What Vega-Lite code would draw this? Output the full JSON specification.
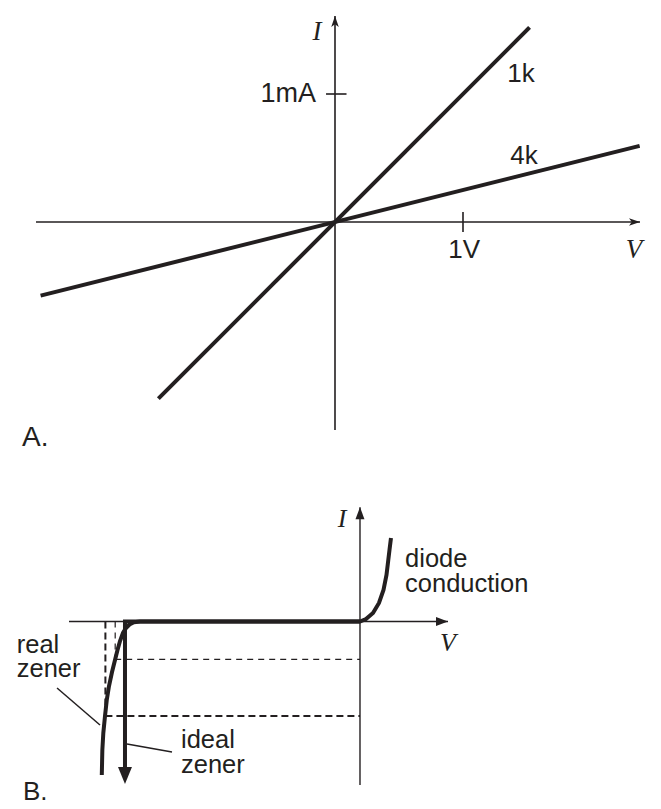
{
  "$schema": "https://vega.github.io/schema/vega-lite/v6.json",
  "padding": 0,
  "spacing": 0,
  "background": "white",
  "config": {"view": {"stroke": null}, "concat": {"spacing": 0}},
  "datasets": {
    "linesA": [
      {"R": "1k", "k": 0, "v": -1.38, "i": -1.38},
      {"R": "1k", "k": 1, "v": 1.52, "i": 1.52},
      {"R": "4k", "k": 0, "v": -2.3, "i": -0.575},
      {"R": "4k", "k": 1, "v": 2.38, "i": 0.595}
    ],
    "axesA": [
      {"v": -2.336, "i": 0, "v2": 2.383, "i2": 0},
      {"v": 0, "i": -1.625, "v2": 0, "i2": 1.61},
      {"v": 1, "i": -0.078, "v2": 1, "i2": 0.078},
      {"v": -0.07, "i": 1, "v2": 0.09, "i2": 1}
    ],
    "arrowRightA": [{"v": 2.383, "i": 0}],
    "arrowUpA": [{"v": 0, "i": 1.61}],
    "labelsA": [
      {"label": "1mA", "v": -0.148, "i": 1.0, "kind": "right"},
      {"label": "1V", "v": 1.01, "i": -0.22, "kind": "center"},
      {"label": "1k", "v": 1.453, "i": 1.156, "kind": "center"},
      {"label": "4k", "v": 1.477, "i": 0.516, "kind": "center"}
    ],
    "symA": [
      {"label": "I", "v": -0.14, "i": 1.484},
      {"label": "V", "v": 2.336, "i": -0.219}
    ],
    "panelA": [{"label": "A.", "v": -2.445, "i": -1.6875}],
    "curveB": [
      {"series": "real", "k": 0, "v": 0.791, "i": 4.418},
      {"series": "real", "k": 1, "v": 0.753, "i": 3.783},
      {"series": "real", "k": 2, "v": 0.7225, "i": 3.254},
      {"series": "real", "k": 3, "v": 0.6765, "i": 2.46},
      {"series": "real", "k": 4, "v": 0.6, "i": 1.667},
      {"series": "real", "k": 5, "v": 0.485, "i": 0.979},
      {"series": "real", "k": 6, "v": 0.332, "i": 0.45},
      {"series": "real", "k": 7, "v": 0.153, "i": 0.132},
      {"series": "real", "k": 8, "v": 0, "i": 0},
      {"series": "real", "k": 9, "v": -5.617, "i": 0},
      {"series": "real", "k": 10, "v": -5.77, "i": -0.042},
      {"series": "real", "k": 11, "v": -5.885, "i": -0.159},
      {"series": "real", "k": 12, "v": -5.974, "i": -0.344},
      {"series": "real", "k": 13, "v": -6.051, "i": -0.608},
      {"series": "real", "k": 14, "v": -6.127, "i": -1.032},
      {"series": "real", "k": 15, "v": -6.191, "i": -1.508},
      {"series": "real", "k": 16, "v": -6.25, "i": -2.0},
      {"series": "real", "k": 17, "v": -6.331, "i": -2.672},
      {"series": "real", "k": 18, "v": -6.408, "i": -3.413},
      {"series": "real", "k": 19, "v": -6.465, "i": -4.153},
      {"series": "real", "k": 20, "v": -6.51, "i": -5.0},
      {"series": "real", "k": 21, "v": -6.553, "i": -5.899},
      {"series": "real", "k": 22, "v": -6.578, "i": -6.799},
      {"series": "real", "k": 23, "v": -6.592, "i": -8.122},
      {"series": "ideal", "k": 0, "v": 0, "i": 0},
      {"series": "ideal", "k": 1, "v": -6.0, "i": 0},
      {"series": "ideal", "k": 2, "v": -6.0, "i": -7.9}
    ],
    "dashThin": [
      {"v": -6.25, "i": 0, "v2": -6.25, "i2": -2},
      {"v": -6.25, "i": -2, "v2": 0, "i2": -2}
    ],
    "dashThick": [
      {"v": -6.5, "i": 0, "v2": -6.5, "i2": -5},
      {"v": -6.5, "i": -5, "v2": 0, "i2": -5}
    ],
    "axesB": [
      {"v": -7.429, "i": 0, "v2": 2.247, "i2": 0},
      {"v": 0, "i": -8.651, "v2": 0, "i2": 6.05}
    ],
    "leadersB": [
      {"v": -7.735, "i": -3.519, "v2": -6.638, "i2": -5.476},
      {"v": -5.948, "i": -6.481, "v2": -4.8, "i2": -6.905}
    ],
    "arrowRightB": [{"v": 2.247, "i": 0}],
    "arrowUpB": [{"v": 0, "i": 6.05}],
    "arrowIdeal": [{"v": -6.0, "i": -8.598}],
    "symB": [
      {"label": "I", "v": -0.4595, "i": 5.423},
      {"label": "V", "v": 2.247, "i": -1.138}
    ],
    "labelsB": [
      {"label": "diode", "v": 1.15, "i": 2.884},
      {"label": "conduction", "v": 1.15, "i": 1.561},
      {"label": "real", "v": -8.764, "i": -1.667},
      {"label": "zener", "v": -8.764, "i": -2.937},
      {"label": "ideal", "v": -4.57, "i": -6.693},
      {"label": "zener", "v": -4.57, "i": -8.016}
    ],
    "panelB": [{"label": "B.", "v": -8.603, "i": -9.444}]
  },
  "vconcat": [
    {
      "width": 661,
      "height": 460,
      "encoding": {
        "x": {"field": "v", "type": "quantitative", "axis": null, "scale": {"domain": [-2.6172, 2.5469], "nice": false, "zero": false}},
        "y": {"field": "i", "type": "quantitative", "axis": null, "scale": {"domain": [-1.8594, 1.7344], "nice": false, "zero": false}}
      },
      "layer": [
        {
          "data": {"name": "axesA"},
          "mark": {"type": "rule", "color": "#231f20", "strokeWidth": 1.6},
          "encoding": {"x2": {"field": "v2"}, "y2": {"field": "i2"}}
        },
        {
          "data": {"name": "arrowRightA"},
          "mark": {"type": "point", "shape": "M0,0L0.55,1.6L0,1.2L-0.55,1.6Z", "angle": 90, "size": 189, "filled": true, "opacity": 1, "color": "#231f20"}
        },
        {
          "data": {"name": "arrowUpA"},
          "mark": {"type": "point", "shape": "M0,0L0.55,1.6L0,1.2L-0.55,1.6Z", "angle": 0, "size": 189, "filled": true, "opacity": 1, "color": "#231f20"}
        },
        {
          "data": {"name": "linesA"},
          "mark": {"type": "line", "color": "#231f20", "strokeWidth": 4, "strokeCap": "butt"},
          "encoding": {"detail": {"field": "R"}, "order": {"field": "k", "type": "quantitative"}}
        },
        {
          "data": {"name": "labelsA"},
          "transform": [{"filter": "datum.kind == 'right'"}],
          "mark": {"type": "text", "font": "Liberation Sans", "fontSize": 27, "align": "right", "baseline": "middle", "color": "#231f20"},
          "encoding": {"text": {"field": "label"}}
        },
        {
          "data": {"name": "labelsA"},
          "transform": [{"filter": "datum.kind == 'center'"}],
          "mark": {"type": "text", "font": "Liberation Sans", "fontSize": 26, "align": "center", "baseline": "middle", "color": "#231f20"},
          "encoding": {"text": {"field": "label"}}
        },
        {
          "data": {"name": "symA"},
          "mark": {"type": "text", "font": "Liberation Serif", "fontStyle": "italic", "fontSize": 27, "align": "center", "baseline": "middle", "color": "#231f20"},
          "encoding": {"text": {"field": "label"}}
        },
        {
          "data": {"name": "panelA"},
          "mark": {"type": "text", "font": "Liberation Sans", "fontSize": 28, "align": "left", "baseline": "middle", "color": "#231f20"},
          "encoding": {"text": {"field": "label"}}
        }
      ]
    },
    {
      "width": 661,
      "height": 349,
      "encoding": {
        "x": {"field": "v", "type": "quantitative", "axis": null, "scale": {"domain": [-9.191, 7.685], "nice": false, "zero": false}},
        "y": {"field": "i", "type": "quantitative", "axis": null, "scale": {"domain": [-9.921, 8.545], "nice": false, "zero": false}}
      },
      "layer": [
        {
          "data": {"name": "axesB"},
          "mark": {"type": "rule", "color": "#231f20", "strokeWidth": 1.4},
          "encoding": {"x2": {"field": "v2"}, "y2": {"field": "i2"}}
        },
        {
          "data": {"name": "dashThin"},
          "mark": {"type": "rule", "color": "#231f20", "strokeWidth": 1.2, "strokeDash": [6, 5]},
          "encoding": {"x2": {"field": "v2"}, "y2": {"field": "i2"}}
        },
        {
          "data": {"name": "dashThick"},
          "mark": {"type": "rule", "color": "#231f20", "strokeWidth": 2, "strokeDash": [7, 4]},
          "encoding": {"x2": {"field": "v2"}, "y2": {"field": "i2"}}
        },
        {
          "data": {"name": "leadersB"},
          "mark": {"type": "rule", "color": "#231f20", "strokeWidth": 1.5},
          "encoding": {"x2": {"field": "v2"}, "y2": {"field": "i2"}}
        },
        {
          "data": {"name": "arrowRightB"},
          "mark": {"type": "point", "shape": "M0,0L0.75,2L-0.75,2Z", "angle": 90, "size": 144, "filled": true, "opacity": 1, "color": "#231f20"}
        },
        {
          "data": {"name": "arrowUpB"},
          "mark": {"type": "point", "shape": "M0,0L0.75,2L-0.75,2Z", "angle": 0, "size": 144, "filled": true, "opacity": 1, "color": "#231f20"}
        },
        {
          "data": {"name": "curveB"},
          "mark": {"type": "line", "color": "#231f20", "strokeWidth": 4, "strokeJoin": "miter", "strokeCap": "butt"},
          "encoding": {"detail": {"field": "series"}, "order": {"field": "k", "type": "quantitative"}}
        },
        {
          "data": {"name": "arrowIdeal"},
          "mark": {"type": "point", "shape": "M0,0L0.82,2L-0.82,2Z", "angle": 180, "size": 289, "filled": true, "opacity": 1, "color": "#231f20"}
        },
        {
          "data": {"name": "symB"},
          "mark": {"type": "text", "font": "Liberation Serif", "fontStyle": "italic", "fontSize": 26, "align": "center", "baseline": "middle", "color": "#231f20"},
          "encoding": {"text": {"field": "label"}}
        },
        {
          "data": {"name": "labelsB"},
          "mark": {"type": "text", "font": "Liberation Sans", "fontSize": 25.5, "align": "left", "baseline": "alphabetic", "color": "#231f20"},
          "encoding": {"text": {"field": "label"}}
        },
        {
          "data": {"name": "panelB"},
          "mark": {"type": "text", "font": "Liberation Sans", "fontSize": 26, "align": "left", "baseline": "alphabetic", "color": "#231f20"},
          "encoding": {"text": {"field": "label"}}
        }
      ]
    }
  ]
}
